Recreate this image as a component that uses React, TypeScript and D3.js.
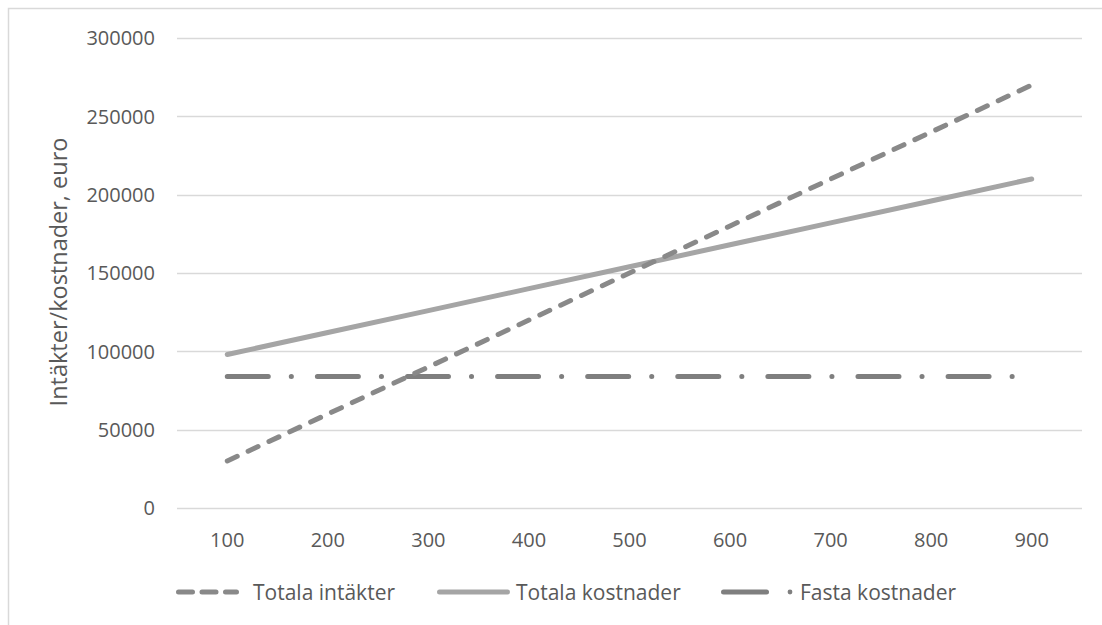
import { useEffect, useRef } from 'react'
import * as d3 from 'd3'

// volume (x axis categories)
const categories = ['100', '200', '300', '400', '500', '600', '700', '800', '900']
const totalRevenue = [30000, 60000, 90000, 120000, 150000, 180000, 210000, 240000, 270000]
const totalCosts = [98000, 112000, 126000, 140000, 154000, 168000, 182000, 196000, 210000]
const fixedCosts = [84000, 84000, 84000, 84000, 84000, 84000, 84000, 84000, 84000]
const yTicks = [0, 50000, 100000, 150000, 200000, 250000, 300000]

const seriesNames = ['Totala intäkter', 'Totala kostnader', 'Fasta kostnader']
const yTitle = 'Intäkter/kostnader, euro'

const W = 1102
const H = 625
const FONT = "'Open Sans', 'Liberation Sans', sans-serif"
const TEXT = '#595959'
const GRID = '#d9d9d9'

export default function App() {
  const svgRef = useRef<SVGSVGElement>(null)

  useEffect(() => {
    if (!svgRef.current) return
    const svg = d3.select(svgRef.current)
    svg.selectAll('*').remove()

    const plot = { left: 177, right: 1082, top: 38, bottom: 508 }

    const x = d3.scaleBand().domain(categories).range([plot.left, plot.right]).padding(0)
    const y = d3.scaleLinear().domain([0, 300000]).range([plot.bottom, plot.top])
    const cx = (c: string) => (x(c) || 0) + x.bandwidth() / 2

    // outer chart border (cropped by the window)
    svg.append('rect')
      .attr('x', 8.5).attr('y', 8.5)
      .attr('width', 1300).attr('height', 800)
      .attr('fill', 'white')
      .attr('stroke', GRID)
      .attr('stroke-width', 1.5)

    // gridlines
    svg.append('g')
      .selectAll('line')
      .data(yTicks)
      .enter()
      .append('line')
      .attr('x1', plot.left).attr('x2', plot.right)
      .attr('y1', d => Math.round(y(d)) + 0.5)
      .attr('y2', d => Math.round(y(d)) + 0.5)
      .attr('stroke', GRID)
      .attr('stroke-width', 1.5)

    // y tick labels
    svg.append('g')
      .selectAll('text')
      .data(yTicks)
      .enter()
      .append('text')
      .attr('x', 155)
      .attr('y', d => y(d))
      .attr('dy', '0.36em')
      .attr('text-anchor', 'end')
      .style('font-family', FONT)
      .style('font-size', '20px')
      .style('fill', TEXT)
      .text(d => String(d))

    // x tick labels
    svg.append('g')
      .selectAll('text')
      .data(categories)
      .enter()
      .append('text')
      .attr('x', d => cx(d))
      .attr('y', 540)
      .attr('dy', '0.36em')
      .attr('text-anchor', 'middle')
      .style('font-family', FONT)
      .style('font-size', '20px')
      .style('fill', TEXT)
      .text(d => d)

    // y axis title
    svg.append('text')
      .attr('transform', `translate(59, ${(137 + 407) / 2}) rotate(-90)`)
      .attr('dy', '0.36em')
      .attr('text-anchor', 'middle')
      .style('font-family', FONT)
      .style('font-size', '23.5px')
      .style('fill', TEXT)
      .text(yTitle)

    const series = [
      { name: seriesNames[0], values: totalRevenue, color: '#898989', width: 5, dash: '11,12' },
      { name: seriesNames[1], values: totalCosts, color: '#a5a5a5', width: 5, dash: null },
      { name: seriesNames[2], values: fixedCosts, color: '#7f7f7f', width: 5, dash: '41,23,0.1,26' },
    ]

    const line = d3.line<number>()
      .x((_, i) => cx(categories[i]))
      .y(d => y(d))

    // draw fixed costs first, then total costs, then revenue on top
    ;[series[2], series[1], series[0]].forEach(s => {
      svg.append('path')
        .datum(s.values)
        .attr('d', line)
        .attr('fill', 'none')
        .attr('stroke', s.color)
        .attr('stroke-width', s.width)
        .attr('stroke-linecap', 'round')
        .attr('stroke-linejoin', 'round')
        .attr('stroke-dasharray', s.dash)
    })

    // legend
    const ly = 592
    const legendItems = [
      { s: series[0], x1: 178.5, x2: 236.5, tx: 253, dash: '14,9.5' },
      { s: series[1], x1: 439.5, x2: 507.5, tx: 516, dash: null },
      { s: series[2], x1: 723.5, x2: 766.5, tx: 800, dash: null },
    ]
    legendItems.forEach(item => {
      svg.append('line')
        .attr('x1', item.x1).attr('x2', item.x2)
        .attr('y1', ly).attr('y2', ly)
        .attr('stroke', item.s.color)
        .attr('stroke-width', item.s.width)
        .attr('stroke-linecap', 'round')
        .attr('stroke-dasharray', item.dash)
      svg.append('text')
        .attr('x', item.tx)
        .attr('y', ly)
        .attr('dy', '0.36em')
        .style('font-family', FONT)
        .style('font-size', '21px')
        .style('fill', TEXT)
        .text(item.s.name)
    })
    // dot of the dash-dot legend marker
    svg.append('circle')
      .attr('cx', 790).attr('cy', ly)
      .attr('r', 2.4)
      .attr('fill', series[2].color)
  }, [])

  return (
    <svg
      ref={svgRef}
      width={W}
      height={H}
      style={{ position: 'absolute', left: 0, top: 0, background: 'white' }}
    />
  )
}
